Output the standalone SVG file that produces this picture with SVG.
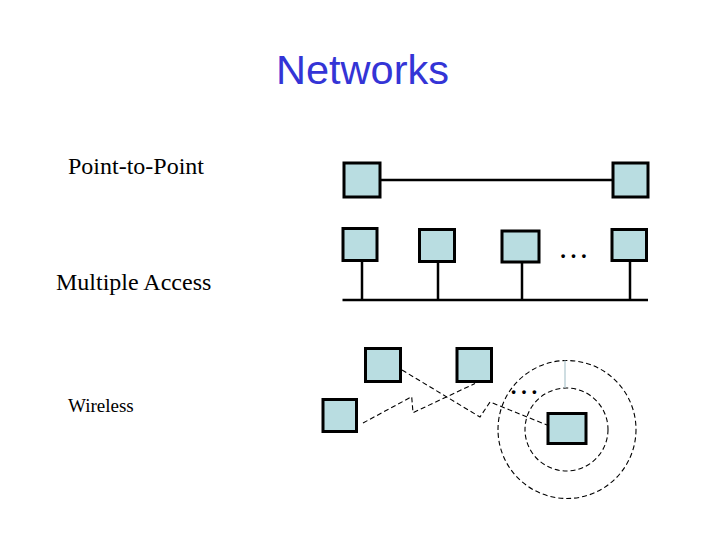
<svg xmlns="http://www.w3.org/2000/svg" width="720" height="540" viewBox="0 0 720 540">
<style>
.node{fill:#b9dde1;stroke:#000;stroke-width:3}
.wire{stroke:#000;stroke-width:2.5;fill:none}
.radio{stroke:#000;stroke-width:1.1;fill:none;stroke-dasharray:5 3}
.lbl{font-family:"Liberation Serif","Times New Roman",serif;fill:#000}
.dots{font-family:"Liberation Serif","Times New Roman",serif;font-size:31px;fill:#000;text-anchor:middle}
</style>
<rect width="720" height="540" fill="#fff"/>
<text x="362.5" y="84" font-family="Liberation Sans, Arial, sans-serif" font-size="41.5" fill="#3434d6" text-anchor="middle">Networks</text>
<text class="lbl" x="68" y="174" font-size="24">Point-to-Point</text>
<text class="lbl" x="56" y="290" font-size="24">Multiple Access</text>
<text class="lbl" x="68" y="412" font-size="19">Wireless</text>
<g id="connectors">
<line class="wire" x1="380" y1="180" x2="613" y2="180"/>
<line class="wire" x1="342.5" y1="300" x2="648" y2="300"/>
<line class="wire" x1="362" y1="261" x2="362" y2="300"/>
<line class="wire" x1="438" y1="262" x2="438" y2="300"/>
<line class="wire" x1="522" y1="262" x2="522" y2="300"/>
<line class="wire" x1="630" y1="261" x2="630" y2="300"/>
<polyline class="radio" points="363,423 411.7,396.7 413,412.7 475,383.5"/>
<polyline class="radio" points="402,370 480,417 490,402 547,425"/>
<circle class="radio" cx="566.5" cy="429.5" r="41.5"/>
<circle class="radio" cx="567" cy="429.5" r="69"/>
<line x1="565" y1="360.5" x2="565" y2="388" stroke="#b4cbd2" stroke-width="1.3"/>
</g>
<g id="p2p-left"><rect class="node" x="344" y="163" width="36" height="34"/></g>
<g id="p2p-right"><rect class="node" x="613" y="163" width="35" height="34"/></g>
<g id="ma-1"><rect class="node" x="343" y="228.5" width="34" height="32"/></g>
<g id="ma-2"><rect class="node" x="419.5" y="229.5" width="35" height="32"/></g>
<g id="ma-3"><rect class="node" x="502" y="231" width="37" height="31"/></g>
<g id="ma-4"><rect class="node" x="612" y="229.5" width="34.5" height="31"/></g>
<text class="dots" x="573.5" y="258">…</text>
<g id="w-a"><rect class="node" x="365.5" y="348.5" width="35" height="33"/></g>
<g id="w-b"><rect class="node" x="457" y="348.5" width="34.5" height="33"/></g>
<g id="w-c"><rect class="node" x="323" y="399.5" width="33.5" height="32"/></g>
<g id="w-d"><rect class="node" x="548" y="413.5" width="38" height="30"/></g>
<text class="dots" x="524" y="394">…</text>
</svg>
